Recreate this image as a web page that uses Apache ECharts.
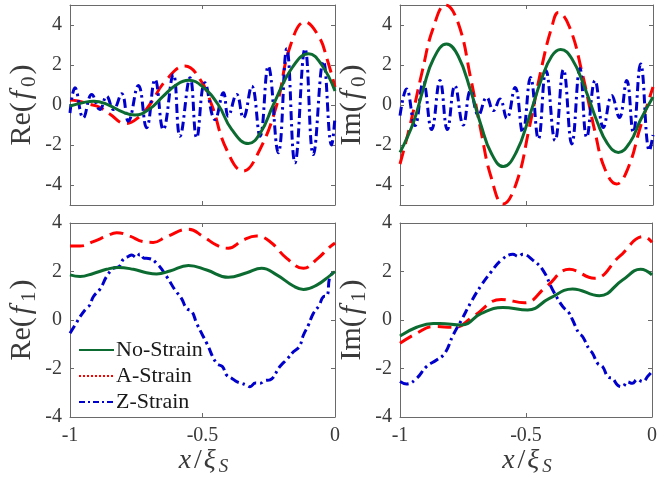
<!DOCTYPE html>
<html><head><meta charset="utf-8">
<script src="https://cdn.jsdelivr.net/npm/echarts/dist/echarts.min.js"></script>
<style>html,body{margin:0;padding:0;background:#fff}#c{width:660px;height:480px}</style>
</head><body><div id="c"></div>
<script>
// ---------------- data ----------------
const seriesNames = ['No-Strain', 'A-Strain', 'Z-Strain'];
const xTickValues = [-1, -0.5, 0];
const topYTicks = [-4, -2, 0, 2, 4];
const bottomYTicks = [-4, -2, 0, 2, 4];

// Re(f0)
const re0NoStrain = [[-1,-0.05],[-0.95,0.12],[-0.91,0.19],[-0.86,0.03],[-0.8,-0.36],[-0.755,-0.5],[-0.7,-0.2],[-0.65,0.42],[-0.6,1.0],[-0.553,1.24],[-0.5,0.92],[-0.44,0.0],[-0.39,-1.22],[-0.327,-1.93],[-0.28,-1.36],[-0.233,0.0],[-0.16,1.9],[-0.10,2.56],[-0.05,2.0],[0,0.7]];
const re0AStrain = [[-1,0.25],[-0.97,0.2],[-0.93,0.05],[-0.89,-0.1],[-0.85,-0.45],[-0.79,-0.93],[-0.74,-0.6],[-0.70,0.0],[-0.64,1.2],[-0.566,1.95],[-0.51,1.3],[-0.465,0.0],[-0.41,-2.2],[-0.346,-3.3],[-0.29,-2.4],[-0.22,0.0],[-0.17,2.9],[-0.113,4.15],[-0.06,3.4],[-0.03,2.3],[0,0.9]];
const re0ZStrain = [[-1,-0.4],[-0.981,0.86],[-0.95,-0.64],[-0.918,0.52],[-0.887,-0.23],[-0.862,0.44],[-0.836,-0.23],[-0.805,0.56],[-0.78,-0.81],[-0.742,0.98],[-0.711,-1.14],[-0.679,1.28],[-0.648,-1.23],[-0.61,1.53],[-0.585,-1.56],[-0.547,1.36],[-0.522,-1.64],[-0.491,1.11],[-0.453,-0.73],[-0.421,0.61],[-0.403,-0.56],[-0.371,0.53],[-0.346,-0.64],[-0.314,0.94],[-0.283,-1.56],[-0.252,1.94],[-0.214,-2.39],[-0.182,2.81],[-0.151,-2.89],[-0.113,2.81],[-0.082,-2.48],[-0.044,2.19],[-0.013,-2.0],[0,-0.6]];

// Im(f0)
const im0NoStrain = [[-1,-2.37],[-0.947,-0.87],[-0.908,0.8],[-0.868,2.3],[-0.816,3.05],[-0.77,2.45],[-0.72,0.68],[-0.68,-1.0],[-0.64,-2.39],[-0.592,-3.08],[-0.54,-2.35],[-0.49,-0.62],[-0.44,1.33],[-0.40,2.45],[-0.365,2.78],[-0.32,2.3],[-0.27,0.87],[-0.22,-0.86],[-0.18,-1.93],[-0.137,-2.37],[-0.09,-1.85],[-0.05,-0.76],[0,0.4]];
const im0AStrain = [[-1,-2.95],[-0.96,-1.0],[-0.91,1.8],[-0.87,3.8],[-0.82,5.0],[-0.77,4.1],[-0.72,1.3],[-0.68,-1.3],[-0.64,-3.6],[-0.592,-4.95],[-0.54,-3.9],[-0.49,-1.2],[-0.44,1.9],[-0.40,3.9],[-0.374,4.63],[-0.33,3.9],[-0.28,1.6],[-0.23,-1.3],[-0.19,-3.2],[-0.144,-3.95],[-0.10,-3.2],[-0.05,-1.1],[0,0.9]];
const im0ZStrain = [[-1,-0.53],[-0.974,0.8],[-0.941,-1.03],[-0.908,1.13],[-0.875,-1.23],[-0.842,1.22],[-0.813,-1.23],[-0.783,0.97],[-0.75,-1.0],[-0.721,0.72],[-0.69,-0.5],[-0.657,0.38],[-0.631,-0.28],[-0.605,0.3],[-0.578,-0.67],[-0.545,0.88],[-0.515,-1.37],[-0.484,1.38],[-0.453,-1.7],[-0.423,1.72],[-0.387,-1.78],[-0.354,1.77],[-0.321,-1.95],[-0.289,1.83],[-0.262,-1.62],[-0.229,1.22],[-0.196,-1.12],[-0.163,0.47],[-0.133,-0.62],[-0.104,1.22],[-0.078,-1.37],[-0.049,2.05],[-0.014,-2.28],[0,-1.5]];

// Re(f1)
const re1NoStrain = [[-1,1.86],[-0.962,1.79],[-0.912,1.92],[-0.862,2.09],[-0.818,2.17],[-0.761,2.09],[-0.711,1.95],[-0.673,1.9],[-0.623,2.02],[-0.553,2.25],[-0.484,2.06],[-0.403,1.76],[-0.333,1.95],[-0.277,2.13],[-0.22,1.86],[-0.157,1.4],[-0.119,1.26],[-0.069,1.44],[-0.019,1.83],[0,2.0]];
const re1AStrain = [[-1,3.05],[-0.962,3.05],[-0.912,3.23],[-0.862,3.46],[-0.824,3.6],[-0.774,3.46],[-0.724,3.23],[-0.686,3.2],[-0.635,3.44],[-0.553,3.74],[-0.497,3.44],[-0.447,3.09],[-0.403,2.96],[-0.346,3.3],[-0.296,3.46],[-0.245,3.23],[-0.182,2.54],[-0.119,2.13],[-0.069,2.5],[-0.019,3.02],[0,3.17]];
const re1ZStrain = [[-1,-0.55],[-0.975,-0.1],[-0.962,0.14],[-0.937,0.5],[-0.925,0.62],[-0.912,0.96],[-0.885,1.3],[-0.862,1.79],[-0.836,2.13],[-0.815,2.2],[-0.799,2.5],[-0.78,2.62],[-0.767,2.68],[-0.75,2.58],[-0.736,2.72],[-0.72,2.55],[-0.704,2.54],[-0.673,2.34],[-0.635,1.79],[-0.604,1.24],[-0.58,0.9],[-0.56,0.48],[-0.54,0.35],[-0.522,-0.14],[-0.484,-0.96],[-0.447,-1.79],[-0.425,-1.92],[-0.409,-2.27],[-0.39,-2.4],[-0.371,-2.54],[-0.35,-2.62],[-0.335,-2.68],[-0.321,-2.75],[-0.3,-2.6],[-0.283,-2.61],[-0.265,-2.5],[-0.245,-2.47],[-0.208,-1.92],[-0.18,-1.6],[-0.157,-1.31],[-0.135,-1.1],[-0.119,-0.62],[-0.1,-0.2],[-0.082,0.27],[-0.06,0.6],[-0.044,0.96],[-0.03,1.0],[-0.019,1.79],[0,2.0]];

// Im(f1)
const im1NoStrain = [[-1,-0.66],[-0.934,-0.3],[-0.868,-0.14],[-0.842,-0.14],[-0.756,-0.21],[-0.677,0.27],[-0.592,0.52],[-0.493,0.41],[-0.407,0.89],[-0.315,1.28],[-0.209,1.0],[-0.117,1.65],[-0.045,2.09],[0,1.86]];
const im1AStrain = [[-1,-0.96],[-0.934,-0.55],[-0.868,-0.27],[-0.783,-0.3],[-0.710,0.14],[-0.598,0.85],[-0.506,0.71],[-0.420,1.37],[-0.328,2.09],[-0.229,1.72],[-0.130,2.61],[-0.032,3.44],[0,3.2]];
const im1ZStrain = [[-1,-2.54],[-0.974,-2.64],[-0.934,-2.41],[-0.895,-1.92],[-0.855,-1.65],[-0.822,-1.37],[-0.789,-0.62],[-0.756,0.0],[-0.717,0.76],[-0.677,1.44],[-0.638,1.99],[-0.598,2.47],[-0.552,2.71],[-0.53,2.62],[-0.513,2.71],[-0.473,2.47],[-0.433,2.06],[-0.394,1.24],[-0.354,0.55],[-0.33,0.3],[-0.315,0.0],[-0.29,-0.55],[-0.275,-0.69],[-0.25,-1.2],[-0.236,-1.37],[-0.215,-1.8],[-0.196,-1.92],[-0.175,-2.35],[-0.157,-2.41],[-0.135,-2.7],[-0.117,-2.75],[-0.098,-2.55],[-0.078,-2.61],[-0.058,-2.45],[-0.038,-2.54],[-0.015,-2.3],[0,-2.13]];

const panelData = [
  [re0NoStrain, re0AStrain, re0ZStrain],
  [im0NoStrain, im0AStrain, im0ZStrain],
  [re1NoStrain, re1AStrain, re1ZStrain],
  [im1NoStrain, im1AStrain, im1ZStrain]
];
const panelPart = ['Re', 'Im', 'Re', 'Im'];
const panelIndex = ['0', '0', '1', '1'];

// ---------------- style ----------------
const serif = "'Liberation Serif', 'Times New Roman', serif";
const axisColor = '#6a6a6a';
const textColor = '#3a3a3a';
const colors = ['#0b6b30', '#ff0000', '#0000cd'];
const dashes = ['solid', [14, 7], [9, 4, 2.5, 4]];
const grids = [
  {left: 70, top: 5, width: 265, height: 200},
  {left: 400, top: 5, width: 253, height: 200},
  {left: 70, top: 223, width: 265, height: 194},
  {left: 400, top: 223, width: 254, height: 194}
];

const xAxes = [], yAxes = [], series = [];
const richX = {
  r: {fontFamily: serif, fontSize: 28, color: textColor},
  i: {fontFamily: serif, fontSize: 28, fontStyle: 'italic', color: textColor, padding: [0, 3, 0, 2]},
  si: {fontFamily: serif, fontSize: 19, fontStyle: 'italic', color: textColor, padding: [13, 0, 0, 0]}
};
const richY = {
  r: {fontFamily: serif, fontSize: 30, color: textColor},
  i: {fontFamily: serif, fontSize: 30, fontStyle: 'italic', color: textColor, padding: [0, 4, 0, 3]},
  s: {fontFamily: serif, fontSize: 21, color: textColor, padding: [14, 2, 0, 0]}
};

grids.forEach((g, k) => {
  const bottomRow = k >= 2;
  const tickSet = bottomRow ? bottomYTicks : topYTicks;
  const yMin = bottomRow ? -4 : -5, yMax = bottomRow ? 4 : 5;
  const common = {type: 'value', gridIndex: k, splitLine: {show: false},
    axisLine: {show: true, onZero: false, lineStyle: {color: axisColor, width: 1}}};
  xAxes.push(Object.assign({}, common, {
    min: -1, max: 0, interval: 0.5, position: 'bottom',
    axisTick: {show: true, inside: true, length: 4, lineStyle: {color: axisColor}},
    axisLabel: {show: bottomRow, fontFamily: serif, fontSize: 20, color: textColor, margin: 9,
      formatter: v => String(v)},
    name: bottomRow ? '{i|x}{r|/}{i|ξ}{si|S}' : '', nameLocation: 'middle', nameGap: 27,
    nameTextStyle: {rich: richX}
  }));
  xAxes.push(Object.assign({}, common, {
    min: -1, max: 0, interval: 0.5, position: 'top',
    axisTick: {show: true, inside: true, length: 4, lineStyle: {color: axisColor}},
    axisLabel: {show: false}
  }));
  yAxes.push(Object.assign({}, common, {
    min: yMin, max: yMax, position: 'left',
    axisTick: {show: true, inside: true, length: 4, customValues: tickSet, lineStyle: {color: axisColor}},
    axisLabel: {show: true, customValues: tickSet, fontFamily: serif, fontSize: 20, color: textColor, margin: 8,
      formatter: v => String(v)},
    name: '{r|' + panelPart[k] + '(}{i|f}{s|' + panelIndex[k] + '}{r|)}',
    nameLocation: 'middle', nameGap: 30, nameRotate: 90,
    nameTextStyle: {rich: richY}
  }));
  yAxes.push(Object.assign({}, common, {
    min: yMin, max: yMax, position: 'right',
    axisTick: {show: true, inside: true, length: 4, customValues: tickSet, lineStyle: {color: axisColor}},
    axisLabel: {show: false}
  }));
  panelData[k].forEach((d, j) => {
    series.push({
      type: 'line', name: seriesNames[j], data: d,
      xAxisIndex: 2 * k, yAxisIndex: 2 * k,
      smooth: 0.45, symbol: 'none', showSymbol: false, clip: true,
      z: j === 2 ? 3 : (j === 0 ? 4 : 2),
      lineStyle: {color: colors[j], width: 3, type: dashes[j]},
      itemStyle: {color: colors[j]},
      emphasis: {disabled: true}
    });
  });
});

const chart = echarts.init(document.getElementById('c'), null, {renderer: 'canvas'});
chart.setOption({
  animation: false,
  backgroundColor: '#ffffff',
  textStyle: {fontFamily: serif},
  grid: grids,
  xAxis: xAxes,
  yAxis: yAxes,
  legend: {
    orient: 'vertical', left: 73, top: 334, itemWidth: 35, itemHeight: 14, itemGap: 4,
    selectedMode: false,
    itemStyle: {opacity: 0},
    textStyle: {fontFamily: serif, fontSize: 22, color: '#1a1a1a', padding: [0, 0, 0, -3]},
    data: [
      {name: 'No-Strain', itemStyle: {opacity: 0}, lineStyle: {width: 2, type: 'solid'}},
      {name: 'A-Strain', itemStyle: {opacity: 0}, lineStyle: {width: 2, type: [2, 2]}},
      {name: 'Z-Strain', itemStyle: {opacity: 0}, lineStyle: {width: 2, type: [6, 3, 2, 3]}}
    ]
  },
  series: series
});
</script>
</body></html>
